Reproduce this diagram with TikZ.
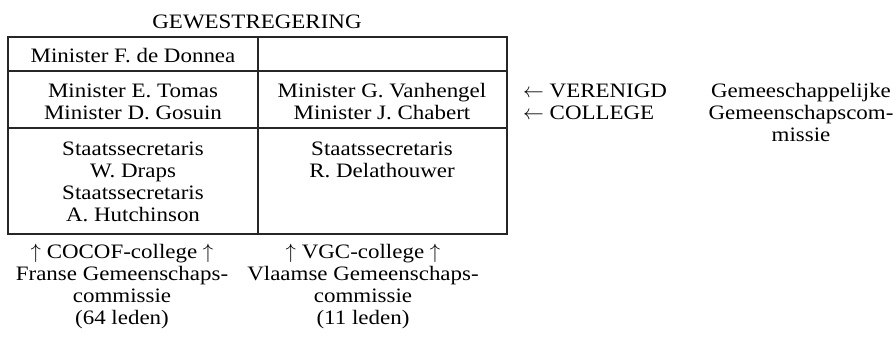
\documentclass[tikz,border=0pt]{standalone}
\usepackage{fontspec}
\setmainfont{Liberation Serif}[FakeStretch=1.12]
\usepackage{tikz}
\usetikzlibrary{positioning}
\tikzset{
  cell/.style={font=\fontsize{20.5}{22}\selectfont, align=center, inner sep=0pt, anchor=base},
  side/.style={font=\fontsize{20.5}{22}\selectfont, align=left, inner sep=0pt, anchor=base west},
  rule/.style={black!85, line width=1.2pt}
}

\begin{document}
\begin{tikzpicture}[x=1pt, y=-1pt]
    \useasboundingbox (0,0) rectangle (896,340);
    % table frame and row lines
    \draw[rule] (8,37) rectangle (507,234);
    \draw[rule] (258,37) -- (258,234);
    \draw[rule] (8,71) -- (507,71);
    \draw[rule] (8,128) -- (507,128);
    % title
    \node[cell] (title) at (257,28) {GEWESTREGERING};
    % cells (placed at the baseline of their last line)
    \node[cell] (donnea) at (133,62) {Minister F. de Donnea};
    \node[cell] (tomas) at (133,119) {Minister E. Tomas\\Minister D. Gosuin};
    \node[cell] (vanhengel) at (382,119) {Minister G. Vanhengel\\Minister J. Chabert};
    \node[cell] (draps) at (133,221) {Staatssecretaris\\W. Draps\\Staatssecretaris\\A. Hutchinson};
    \node[cell] (delathouwer) at (382,177) {Staatssecretaris\\R. Delathouwer};
    % commissions below
    \node[cell] (cocof) at (122,324) {$\uparrow$ COCOF-college $\uparrow$\\Franse Gemeenschaps-\\commissie\\(64 leden)};
    \node[cell] (vgc) at (363,324) {$\uparrow$ VGC-college $\uparrow$\\Vlaamse Gemeenschaps-\\commissie\\(11 leden)};
    % right side
    \node[side] (verenigd) at (523,119) {$\leftarrow$ VERENIGD\\$\leftarrow$ COLLEGE};
    \node[cell] (ggc) at (801,141) {Gemeeschappelijke\\Gemeenschapscom-\\missie};
  \end{tikzpicture}
\end{document}
